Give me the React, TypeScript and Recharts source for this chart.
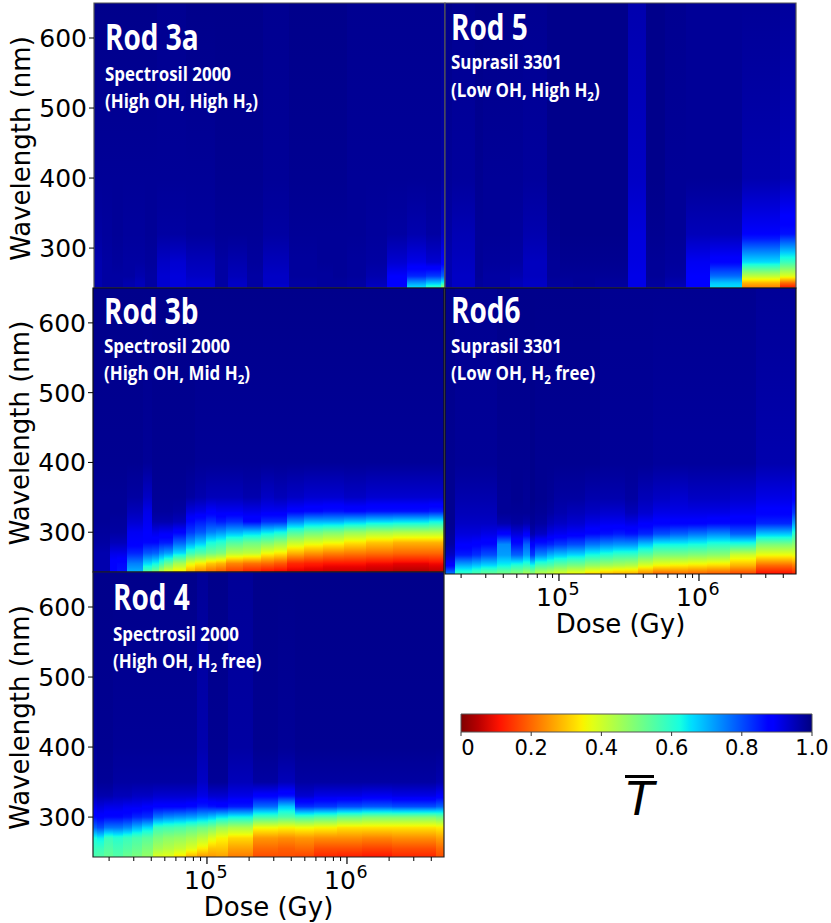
import React from "react";
import { ComposedChart, XAxis, YAxis, ReferenceArea, Label } from "recharts";

// Wavelength samples (nm) at which each column's mean transmission was read
const coarseBands = [243, 250, 260, 280, 320, 400, 650];
const detailBands = [243, 255, 270, 285, 300, 315, 330, 350, 400, 650];
const yTicks = [300, 400, 500, 600];
const doseTicks = [2e4, 3e4, 4e4, 5e4, 6e4, 7e4, 8e4, 9e4, 1e5, 2e5, 3e5, 4e5, 5e5, 6e5, 7e5, 8e5, 9e5, 1e6, 2e6, 3e6, 4e6];
const colorTicks = [0, 0.2, 0.4, 0.6, 0.8, 1];
const colorLevels = [0, 0.05, 0.11, 0.125, 0.23, 0.34, 0.35, 0.375, 0.5, 0.625, 0.65, 0.66, 0.77, 0.875, 0.89, 0.95, 1];

// log10(dose / Gy) at the edges of each measured column
const rod3aEdges = [4.186, 4.241, 4.312, 4.396, 4.479, 4.55, 4.634, 4.729, 4.843, 5.05, 5.146, 5.276, 5.395, 5.579, 5.776, 5.896, 5.991, 6.129, 6.281, 6.424, 6.557, 6.662, 6.693];
const rod5Edges = [4.186, 4.234, 4.4, 4.46, 4.65, 4.746, 4.912, 5.007, 5.103, 5.257, 5.496, 5.619, 5.757, 5.905, 6.079, 6.31, 6.579, 6.693];
const rod3bEdges = [4.186, 4.307, 4.355, 4.426, 4.546, 4.605, 4.657, 4.693, 4.755, 4.848, 4.915, 4.993, 5.065, 5.136, 5.26, 5.386, 5.479, 5.574, 5.691, 5.831, 5.979, 6.136, 6.326, 6.586, 6.693];
const rod6Edges = [4.186, 4.257, 4.376, 4.441, 4.56, 4.655, 4.741, 4.793, 4.829, 4.912, 4.965, 5.055, 5.186, 5.293, 5.388, 5.472, 5.567, 5.674, 5.793, 5.924, 6.06, 6.222, 6.407, 6.662, 6.693];
const rod4Edges = [4.186, 4.217, 4.265, 4.327, 4.403, 4.462, 4.534, 4.617, 4.688, 4.767, 4.85, 4.926, 5.01, 5.065, 5.15, 5.331, 5.505, 5.629, 5.767, 5.926, 6.105, 6.319, 6.636, 6.693];

// Mean transmission, one row per dose column, one entry per wavelength sample
const rod3aT = [
  [.96,.96,.96,.96,.97,.98,.99],[.97,.97,.97,.97,.975,.98,.99],[.97,.97,.97,.975,.98,.98,.99],[.96,.96,.97,.97,.975,.98,.99],
  [.95,.95,.96,.97,.975,.98,.99],[.97,.97,.97,.975,.98,.98,.99],[.93,.93,.93,.94,.97,.98,.985],[.92,.92,.92,.93,.97,.98,.985],
  [.93,.93,.94,.95,.975,.98,.99],[.97,.97,.97,.97,.98,.985,.99],[.94,.94,.95,.96,.98,.985,.99],[.97,.97,.97,.975,.98,.985,.99],
  [.93,.94,.94,.95,.97,.98,.985],[.97,.97,.975,.975,.98,.985,.99],[.975,.975,.975,.98,.98,.985,.99],[.975,.975,.98,.98,.98,.985,.99],
  [.97,.97,.975,.975,.98,.98,.985],[.94,.95,.96,.97,.975,.98,.985],[.87,.88,.89,.93,.97,.98,.985],[.65,.72,.84,.91,.96,.98,.985],
  [.58,.68,.82,.93,.97,.98,.985],[.45,.62,.78,.89,.94,.97,.98],
];
const rod5T = [
  [.96,.96,.96,.96,.97,.98,.99],[.94,.94,.94,.945,.955,.975,.985],[.975,.975,.98,.98,.98,.985,.99],[.97,.97,.97,.975,.98,.98,.99],
  [.95,.95,.96,.97,.975,.98,.985],[.94,.94,.945,.945,.96,.975,.985],[.97,.975,.98,.98,.985,.99,.99],[.97,.975,.98,.985,.99,.99,.99],
  [.975,.98,.98,.985,.99,.99,.99],[.97,.975,.98,.985,.99,.99,.99],[.91,.91,.91,.915,.92,.94,.96],[.97,.975,.98,.98,.985,.99,.99],
  [.95,.96,.97,.975,.98,.98,.985],[.88,.88,.89,.9,.95,.98,.98],[.65,.68,.77,.88,.95,.98,.98],[.22,.28,.42,.66,.89,.96,.98],
  [.11,.2,.38,.58,.86,.95,.975],
];
const rod3bT = [
  [.96,.96,.96,.97,.975,.98,.98,.98,.985,.99],[.88,.88,.91,.95,.97,.975,.98,.98,.985,.99],[.86,.87,.91,.95,.97,.975,.98,.98,.985,.99],
  [.7,.75,.84,.89,.9,.93,.95,.97,.985,.99],[.55,.66,.79,.87,.89,.9,.91,.94,.98,.99],[.5,.63,.78,.87,.91,.96,.975,.98,.985,.99],
  [.42,.58,.74,.85,.9,.96,.975,.98,.985,.99],[.37,.52,.72,.85,.9,.96,.975,.98,.985,.99],[.33,.45,.66,.78,.88,.95,.97,.98,.985,.99],
  [.27,.37,.58,.72,.82,.87,.92,.97,.985,.99],[.23,.34,.55,.68,.79,.85,.91,.96,.98,.99],[.2,.3,.52,.62,.75,.83,.89,.95,.98,.99],
  [.18,.28,.5,.6,.73,.85,.9,.95,.98,.99],[.15,.23,.43,.55,.7,.83,.9,.95,.98,.99],[.12,.21,.42,.52,.68,.87,.91,.96,.98,.99],
  [.1,.2,.36,.5,.65,.83,.9,.94,.98,.99],[.09,.18,.34,.47,.63,.83,.9,.95,.98,.99],[.08,.13,.28,.41,.56,.74,.88,.94,.98,.99],
  [.07,.12,.25,.38,.52,.7,.87,.93,.98,.99],[.06,.11,.23,.36,.5,.7,.86,.93,.98,.99],[.06,.11,.22,.33,.47,.68,.87,.94,.98,.99],
  [.05,.1,.21,.3,.45,.66,.86,.93,.98,.99],[.04,.09,.2,.28,.44,.65,.86,.93,.98,.99],[.05,.1,.2,.28,.44,.63,.85,.93,.98,.99],
];
const rod6T = [
  [.75,.88,.94,.97,.98,.985,.985,.985,.985,.99],[.58,.7,.85,.89,.92,.94,.95,.96,.98,.985],[.55,.68,.83,.88,.92,.94,.95,.96,.98,.985],
  [.52,.66,.8,.87,.91,.94,.95,.96,.98,.985],[.5,.63,.72,.74,.88,.96,.98,.98,.985,.99],[.48,.6,.78,.86,.92,.97,.98,.985,.985,.99],
  [.44,.58,.72,.78,.89,.96,.98,.98,.985,.99],[.47,.62,.82,.88,.96,.98,.985,.99,.99,.99],[.42,.56,.74,.85,.94,.97,.98,.985,.985,.99],
  [.4,.55,.7,.84,.91,.95,.97,.98,.985,.99],[.38,.52,.68,.82,.9,.94,.96,.97,.985,.99],[.35,.5,.66,.8,.89,.93,.95,.97,.985,.99],
  [.31,.47,.62,.76,.87,.91,.94,.96,.985,.99],[.28,.45,.6,.74,.86,.9,.93,.96,.98,.985],[.27,.44,.58,.73,.85,.9,.93,.96,.98,.985],
  [.27,.43,.58,.73,.86,.91,.95,.97,.98,.985],[.23,.38,.54,.68,.84,.89,.93,.95,.98,.985],[.19,.35,.5,.63,.8,.88,.91,.94,.975,.985],
  [.2,.34,.5,.63,.78,.88,.91,.93,.975,.985],[.19,.33,.49,.62,.76,.88,.91,.94,.975,.985],[.18,.32,.48,.6,.74,.87,.91,.94,.975,.985],
  [.16,.28,.4,.6,.78,.87,.9,.93,.975,.985],[.1,.2,.36,.5,.68,.84,.88,.91,.96,.98],[.12,.22,.37,.48,.6,.72,.82,.88,.96,.98],
];
const rod4T = [
  [.56,.58,.62,.78,.87,.91,.95,.97,.98,.99],[.55,.58,.64,.8,.88,.92,.96,.98,.985,.99],[.53,.55,.58,.76,.87,.91,.96,.98,.985,.99],
  [.55,.57,.6,.76,.87,.91,.95,.97,.98,.99],[.52,.55,.58,.74,.86,.9,.95,.97,.98,.99],[.5,.53,.56,.7,.84,.9,.94,.97,.98,.99],
  [.47,.5,.54,.66,.83,.89,.94,.97,.98,.99],[.38,.45,.5,.58,.76,.88,.93,.97,.98,.99],[.37,.43,.48,.57,.74,.88,.93,.97,.98,.99],
  [.33,.41,.47,.56,.73,.88,.93,.97,.98,.99],[.28,.38,.45,.54,.72,.87,.93,.97,.98,.99],[.25,.34,.42,.52,.7,.85,.91,.94,.96,.98],
  [.25,.3,.38,.5,.68,.86,.93,.98,.985,.99],[.26,.3,.35,.46,.65,.87,.93,.98,.985,.99],[.22,.26,.32,.44,.63,.85,.91,.95,.97,.98],
  [.17,.2,.25,.36,.57,.77,.88,.97,.985,.99],[.17,.19,.24,.35,.55,.68,.86,.95,.98,.99],[.16,.2,.25,.36,.57,.83,.93,.97,.985,.99],
  [.13,.17,.24,.35,.55,.82,.91,.97,.985,.99],[.12,.17,.24,.33,.52,.8,.91,.97,.985,.99],[.11,.16,.23,.33,.5,.79,.9,.97,.985,.99],
  [.13,.17,.24,.33,.5,.8,.91,.97,.985,.99],[.17,.2,.26,.34,.52,.78,.89,.96,.985,.99],
];

const AXIS_FONT = "'DejaVu Sans', sans-serif";
const ROD_FONT = "'Open Sans', sans-serif";
const WL_TOP = 650;
const WL_BOTTOM = 243;
const DOSE_MIN = 10 ** 4.186;
const DOSE_MAX = 10 ** 6.693;

// matplotlib's jet, reversed: T = 1 is navy, T = 0 is dark red
const piece = (x: number, pts: number[][]) => {
  for (let i = 1; i < pts.length; i++) {
    if (x <= pts[i][0]) {
      const [x0, y0] = pts[i - 1];
      const [x1, y1] = pts[i];
      return y0 + ((y1 - y0) * (x - x0)) / (x1 - x0);
    }
  }
  return pts[pts.length - 1][1];
};
const jetR = (t: number) => {
  const x = Math.min(1, Math.max(0, 1 - t));
  const r = piece(x, [[0, 0], [0.35, 0], [0.66, 1], [0.89, 1], [1, 0.5]]);
  const g = piece(x, [[0, 0], [0.125, 0], [0.375, 1], [0.64, 1], [0.91, 0], [1, 0]]);
  const b = piece(x, [[0, 0.5], [0.11, 1], [0.34, 1], [0.65, 0], [1, 0]]);
  return `rgb(${Math.round(r * 255)},${Math.round(g * 255)},${Math.round(b * 255)})`;
};

const gradientStops = (bands: number[], values: number[]) => {
  const out: React.ReactNode[] = [];
  for (let i = bands.length - 1; i >= 0; i--) {
    const steps = i === 0 ? 1 : 6;
    for (let s = 0; s < steps; s++) {
      const f = s / 6;
      const wl = i === 0 ? bands[0] : bands[i] + (bands[i - 1] - bands[i]) * f;
      const t = i === 0 ? values[0] : values[i] + (values[i - 1] - values[i]) * f;
      out.push(<stop key={`${i}-${s}`} offset={(WL_TOP - wl) / (WL_TOP - WL_BOTTOM)} stopColor={jetR(t)} />);
    }
  }
  return out;
};

const DoseTick = ({ x, y, payload }: any) => {
  const exp = Math.log10(payload.value);
  const major = Math.abs(exp - Math.round(exp)) < 1e-6;
  if (!major) return <line x1={x} x2={x} y1={y} y2={y + 4} stroke="#000" strokeWidth={1} />;
  return (
    <g>
      <line x1={x} x2={x} y1={y} y2={y + 7} stroke="#000" strokeWidth={1.2} />
      <text x={x - 7} y={y + 32} textAnchor="middle" fontFamily={AXIS_FONT} fontSize={25} fill="#000">10</text>
      <text x={x + 15} y={y + 21} textAnchor="middle" fontFamily={AXIS_FONT} fontSize={17.5} fill="#000">{Math.round(exp)}</text>
    </g>
  );
};

const ColorTick = ({ x, y, payload }: any) => (
  <g>
    <line x1={x} x2={x} y1={y} y2={y + 4} stroke="#333" strokeWidth={1} />
    <text x={payload.value === 0 ? x + 7 : x} y={y + 23} textAnchor="middle" fontFamily={AXIS_FONT} fontSize={21} fill="#000">
      {payload.value === 0 ? "0" : payload.value.toFixed(1)}
    </text>
  </g>
);

type PanelProps = {
  id: string; left: number; top: number; width: number; height: number;
  edges: number[]; bands: number[]; values: number[][];
  showX: boolean; showY: boolean; frame: string;
};

const Panel = ({ id, left, top, width, height, edges, bands, values, showX, showY, frame }: PanelProps) => {
  const mL = 90, mT = 3, mB = 66;
  return (
    <div style={{ position: "absolute", left: left - mL, top: top - mT }}>
      <ComposedChart width={width + mL + 6} height={height + mT + mB} data={[{ d: DOSE_MIN, w: 300 }]}
        margin={{ top: mT, right: 6, left: showY ? 0 : mL, bottom: showX ? 0 : mB }}>
        <defs>
          {values.map((v, i) => (
            <linearGradient key={i} id={`${id}-${i}`} x1="0" y1="0" x2="0" y2="1">{gradientStops(bands, v)}</linearGradient>
          ))}
        </defs>
        <XAxis type="number" dataKey="d" scale="log" domain={[DOSE_MIN, DOSE_MAX]} allowDataOverflow hide={!showX}
          ticks={doseTicks} interval={0} height={mB} tick={<DoseTick />} tickLine={false} tickSize={0} tickMargin={0} axisLine={false}>
          <Label value="Dose (Gy)" position="insideBottom" offset={7} fontFamily={AXIS_FONT} fontSize={26} fill="#000" />
        </XAxis>
        <YAxis type="number" dataKey="w" domain={[WL_BOTTOM, WL_TOP]} allowDataOverflow hide={!showY} ticks={yTicks} interval={0} width={mL}
          tick={{ fontFamily: AXIS_FONT, fontSize: 25, fill: "#000" }} tickLine={{ stroke: "#000" }} tickSize={5} axisLine={false}>
          <Label value="Wavelength (nm)" angle={-90} position="center" dx={-28} dy={3} fontFamily={AXIS_FONT} fontSize={26} fill="#000" />
        </YAxis>
        {values.map((_, i) => (
          <ReferenceArea key={i} x1={10 ** edges[i]} x2={10 ** edges[i + 1]} y1={WL_BOTTOM} y2={WL_TOP}
            fill={`url(#${id}-${i})`} fillOpacity={1} stroke="none" ifOverflow="visible" shapeRendering="crispEdges" />
        ))}
        <ReferenceArea x1={DOSE_MIN} x2={DOSE_MAX} y1={WL_BOTTOM} y2={WL_TOP} fill="none" stroke={frame} strokeWidth={1.2} ifOverflow="visible" />
      </ComposedChart>
    </div>
  );
};

const ColorBar = () => (
  <div style={{ position: "absolute", left: 451, top: 704 }}>
    <ComposedChart width={380} height={60} data={[{ t: 0, v: 0 }]} margin={{ top: 10, right: 19, left: 10, bottom: 0 }}>
      <defs>
        <linearGradient id="cbar" x1="0" y1="0" x2="1" y2="0">
          {colorLevels.map((t) => <stop key={t} offset={t} stopColor={jetR(t)} />)}
        </linearGradient>
      </defs>
      <XAxis type="number" dataKey="t" domain={[0, 1]} ticks={colorTicks} interval={0} height={32} tick={<ColorTick />} tickLine={false} tickSize={0} tickMargin={0} axisLine={false} />
      <YAxis type="number" dataKey="v" domain={[0, 1]} hide />
      <ReferenceArea x1={0} x2={1} y1={0} y2={1} fill="url(#cbar)" fillOpacity={1} stroke="#555" strokeWidth={1} ifOverflow="visible" />
    </ComposedChart>
  </div>
);

const RodLabel = ({ x, y, title, material, note, yM, yN }: any) => {
  const base: React.CSSProperties = { position: "absolute", left: x, color: "#fff", fontFamily: ROD_FONT, fontWeight: 700, whiteSpace: "nowrap", lineHeight: 1, transformOrigin: "left center" };
  return (
    <>
      <div style={{ ...base, top: y - 18, fontSize: 35, transform: "scaleX(0.8)" }}>{title}</div>
      <div style={{ ...base, top: yM - 10, fontSize: 19, transform: "scaleX(0.89)" }}>{material}</div>
      <div style={{ ...base, top: yN - 10, fontSize: 19, transform: "scaleX(0.89)" }}>{note}</div>
    </>
  );
};
const H2 = () => <>H<span style={{ fontSize: 13, position: "relative", top: 4 }}>2</span></>;

export default function App() {
  return (
    <div style={{ position: "absolute", left: 0, top: 0, width: 831, height: 923, background: "#fff", overflow: "hidden" }}>
      <Panel id="r3a" left={94} top={3} width={351} height={285} edges={rod3aEdges} bands={coarseBands} values={rod3aT} showX={false} showY frame="#555" />
      <Panel id="r5" left={445} top={3} width={351} height={285} edges={rod5Edges} bands={coarseBands} values={rod5T} showX={false} showY={false} frame="#555" />
      <Panel id="r6" left={445} top={288} width={351} height={286} edges={rod6Edges} bands={detailBands} values={rod6T} showX showY={false} frame="#111" />
      <Panel id="r3b" left={93} top={288} width={351} height={284} edges={rod3bEdges} bands={detailBands} values={rod3bT} showX={false} showY frame="#111" />
      <Panel id="r4" left={93} top={572} width={351} height={285} edges={rod4Edges} bands={detailBands} values={rod4T} showX showY frame="#222" />
      <ColorBar />
      <RodLabel x={105} y={37} yM={75} yN={102} title="Rod 3a" material="Spectrosil 2000" note={<>(High OH, High <H2 />)</>} />
      <RodLabel x={451} y={27} yM={63} yN={91} title="Rod 5" material="Suprasil 3301" note={<>(Low OH, High <H2 />)</>} />
      <RodLabel x={104} y={311} yM={347} yN={374} title="Rod 3b" material="Spectrosil 2000" note={<>(High OH, Mid <H2 />)</>} />
      <RodLabel x={451} y={310} yM={347} yN={374} title="Rod6" material="Suprasil 3301" note={<>(Low OH, <H2 /> free)</>} />
      <RodLabel x={113} y={597} yM={635} yN={662} title="Rod 4" material="Spectrosil 2000" note={<>(High OH, <H2 /> free)</>} />
      <div style={{ position: "absolute", left: 625, top: 775, width: 29, height: 2.5, background: "#000" }} />
      <div style={{ position: "absolute", left: 626, top: 774, fontFamily: AXIS_FONT, fontStyle: "italic", fontSize: 46, lineHeight: "50px", color: "#000" }}>T</div>
    </div>
  );
}
